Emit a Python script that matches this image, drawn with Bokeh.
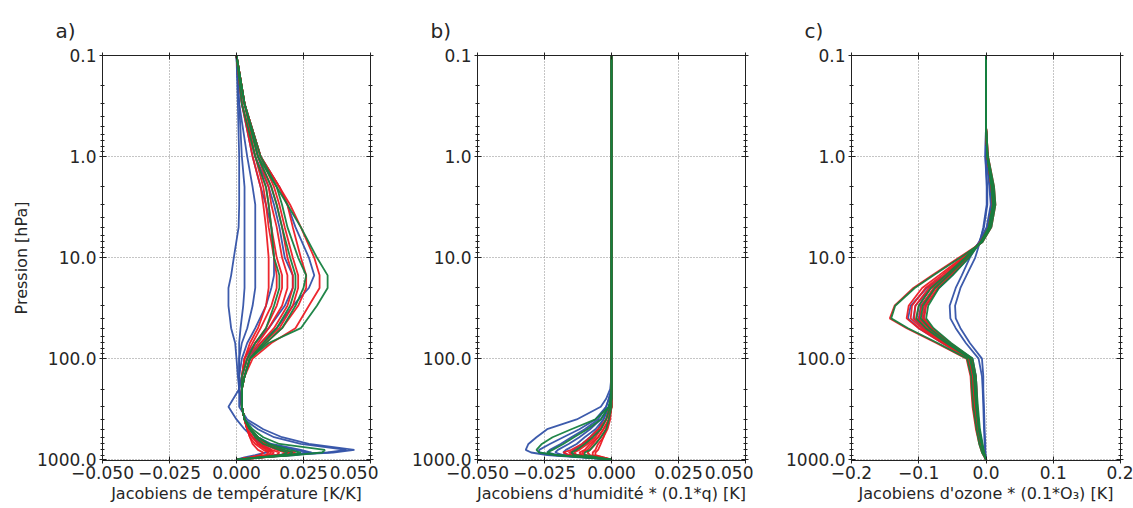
from bokeh.plotting import figure
from bokeh.layouts import row
from bokeh.models import Range1d, FixedTicker, CustomJSTickFormatter, LogAxis, LinearAxis
from bokeh.embed import file_html
from bokeh.resources import INLINE

# ---------------- data ----------------
# Panel a: temperature Jacobians [K/K]
lev_a = [0.1, 0.3, 1, 2, 3, 5, 10, 15, 20, 30, 50, 70, 100, 150, 200, 300, 400, 500, 600, 700, 800, 850, 900, 950, 1000]
a_blue = [
    [0, 0.0005, 0.001, 0.001, 0.001, 0.0008, -0.001, -0.002, -0.003, -0.003, -0.002, -0.0005, 0.0, 0.0005, 0.001, -0.003, 0.0, 0.003, 0.006, 0.009, 0.013, 0.011, 0.007, 0.003, 0],
    [0, 0.001, 0.002, 0.003, 0.003, 0.003, 0.003, 0.003, 0.003, 0.0025, 0.0015, 0.001, 0.001, 0.001, 0.001, 0.001, 0.004, 0.010, 0.017, 0.027, 0.044, 0.036, 0.018, 0.006, 0],
    [0, 0.001, 0.004, 0.006, 0.007, 0.007, 0.007, 0.007, 0.007, 0.006, 0.004, 0.002, 0.001, 0.001, 0.001, 0.002, 0.003, 0.008, 0.014, 0.024, 0.041, 0.034, 0.016, 0.005, 0],
    [0, 0.002, 0.006, 0.009, 0.011, 0.013, 0.014, 0.014, 0.013, 0.011, 0.007, 0.004, 0.002, 0.001, 0.001, 0.002, 0.003, 0.005, 0.008, 0.013, 0.024, 0.028, 0.020, 0.008, 0],
    [0, 0.003, 0.009, 0.016, 0.019, 0.022, 0.027, 0.029, 0.027, 0.021, 0.015, 0.009, 0.004, 0.002, 0.001, 0.002, 0.003, 0.005, 0.008, 0.012, 0.022, 0.027, 0.022, 0.009, 0],
    [0, 0.002, 0.007, 0.012, 0.014, 0.016, 0.018, 0.021, 0.021, 0.018, 0.012, 0.007, 0.003, 0.002, 0.001, 0.002, 0.003, 0.004, 0.006, 0.010, 0.017, 0.020, 0.016, 0.007, 0],
]
a_red = [
    [0, 0.002, 0.006, 0.009, 0.010, 0.011, 0.012, 0.012, 0.012, 0.011, 0.008, 0.005, 0.003, 0.002, 0.002, 0.002, 0.003, 0.004, 0.005, 0.006, 0.008, 0.010, 0.009, 0.005, 0],
    [0, 0.002, 0.007, 0.010, 0.011, 0.012, 0.014, 0.015, 0.015, 0.013, 0.009, 0.006, 0.003, 0.002, 0.002, 0.002, 0.003, 0.004, 0.005, 0.007, 0.010, 0.012, 0.011, 0.006, 0],
    [0, 0.003, 0.007, 0.011, 0.012, 0.013, 0.015, 0.017, 0.017, 0.015, 0.011, 0.007, 0.004, 0.002, 0.002, 0.002, 0.003, 0.004, 0.006, 0.008, 0.011, 0.013, 0.012, 0.006, 0],
    [0, 0.003, 0.008, 0.012, 0.013, 0.015, 0.017, 0.019, 0.019, 0.017, 0.012, 0.008, 0.004, 0.002, 0.002, 0.002, 0.003, 0.004, 0.006, 0.008, 0.012, 0.014, 0.013, 0.007, 0],
    [0, 0.003, 0.008, 0.013, 0.015, 0.017, 0.019, 0.021, 0.021, 0.019, 0.014, 0.009, 0.005, 0.003, 0.002, 0.002, 0.003, 0.005, 0.007, 0.009, 0.013, 0.016, 0.015, 0.008, 0],
    [0, 0.003, 0.009, 0.014, 0.016, 0.018, 0.021, 0.023, 0.023, 0.021, 0.016, 0.010, 0.005, 0.003, 0.002, 0.002, 0.003, 0.005, 0.007, 0.010, 0.015, 0.018, 0.017, 0.009, 0],
    [0, 0.003, 0.009, 0.016, 0.019, 0.021, 0.024, 0.026, 0.026, 0.023, 0.017, 0.011, 0.005, 0.003, 0.002, 0.002, 0.003, 0.005, 0.008, 0.011, 0.016, 0.020, 0.018, 0.010, 0],
    [0, 0.003, 0.009, 0.016, 0.020, 0.024, 0.029, 0.031, 0.031, 0.027, 0.022, 0.013, 0.006, 0.003, 0.002, 0.002, 0.003, 0.005, 0.008, 0.011, 0.017, 0.022, 0.020, 0.010, 0],
]
a_green = [
    [0, 0.003, 0.008, 0.015, 0.019, 0.024, 0.030, 0.034, 0.034, 0.030, 0.024, 0.012, 0.005, 0.003, 0.002, 0.002, 0.003, 0.006, 0.010, 0.016, 0.033, 0.032, 0.022, 0.010, 0],
    [0, 0.003, 0.008, 0.013, 0.015, 0.017, 0.020, 0.022, 0.022, 0.020, 0.015, 0.010, 0.005, 0.003, 0.002, 0.002, 0.003, 0.005, 0.008, 0.012, 0.020, 0.024, 0.020, 0.009, 0],
    [0, 0.002, 0.007, 0.011, 0.012, 0.013, 0.014, 0.016, 0.016, 0.014, 0.011, 0.007, 0.004, 0.002, 0.002, 0.002, 0.003, 0.005, 0.007, 0.010, 0.016, 0.019, 0.017, 0.008, 0],
    [0, 0.003, 0.009, 0.015, 0.017, 0.019, 0.023, 0.026, 0.025, 0.022, 0.017, 0.011, 0.005, 0.003, 0.002, 0.002, 0.003, 0.005, 0.008, 0.012, 0.018, 0.021, 0.019, 0.009, 0],
]

# Panel b: humidity Jacobians * (0.1*q) [K]
lev_b = [0.1, 100, 150, 200, 250, 300, 400, 500, 600, 700, 800, 850, 900, 950, 1000]
b_blue = [
    [0, 0, 0, -0.0005, -0.002, -0.004, -0.013, -0.024, -0.028, -0.031, -0.032, -0.030, -0.024, -0.012, 0],
    [0, 0, 0, 0, -0.001, -0.002, -0.006, -0.012, -0.018, -0.023, -0.027, -0.027, -0.022, -0.010, 0],
    [0, 0, 0, 0, -0.001, -0.002, -0.005, -0.010, -0.015, -0.019, -0.023, -0.024, -0.020, -0.009, 0],
    [0, 0, 0, 0, 0, -0.001, -0.004, -0.008, -0.012, -0.016, -0.020, -0.021, -0.018, -0.008, 0],
    [0, 0, 0, 0, 0, -0.001, -0.003, -0.006, -0.010, -0.013, -0.017, -0.018, -0.016, -0.007, 0],
    [0, 0, 0, 0, 0, -0.001, -0.003, -0.005, -0.008, -0.011, -0.014, -0.015, -0.013, -0.006, 0],
]
b_red = [
    [0, 0, 0, 0, 0, -0.0005, -0.002, -0.005, -0.008, -0.011, -0.015, -0.018, -0.016, -0.007, 0],
    [0, 0, 0, 0, 0, -0.0005, -0.002, -0.004, -0.007, -0.010, -0.013, -0.016, -0.014, -0.006, 0],
    [0, 0, 0, 0, 0, -0.0005, -0.002, -0.004, -0.006, -0.009, -0.012, -0.014, -0.013, -0.006, 0],
    [0, 0, 0, 0, 0, 0, -0.001, -0.003, -0.005, -0.008, -0.010, -0.012, -0.011, -0.005, 0],
    [0, 0, 0, 0, 0, 0, -0.001, -0.003, -0.005, -0.007, -0.009, -0.011, -0.010, -0.005, 0],
    [0, 0, 0, 0, 0, 0, -0.001, -0.002, -0.004, -0.006, -0.008, -0.009, -0.008, -0.004, 0],
    [0, 0, 0, 0, 0, 0, -0.001, -0.002, -0.003, -0.005, -0.006, -0.007, -0.007, -0.003, 0],
    [0, 0, 0, 0, 0, 0, -0.0005, -0.0015, -0.003, -0.004, -0.005, -0.006, -0.006, -0.003, 0],
]
b_green = [
    [0, 0, 0, 0, -0.0005, -0.001, -0.006, -0.015, -0.022, -0.026, -0.028, -0.027, -0.021, -0.010, 0],
    [0, 0, 0, 0, 0, -0.001, -0.004, -0.009, -0.014, -0.018, -0.022, -0.024, -0.021, -0.010, 0],
    [0, 0, 0, 0, 0, -0.0005, -0.002, -0.004, -0.007, -0.010, -0.013, -0.015, -0.014, -0.007, 0],
    [0, 0, 0, 0, 0, 0, -0.001, -0.002, -0.004, -0.006, -0.008, -0.010, -0.010, -0.005, 0],
]

# Panel c: ozone Jacobians * (0.1*O3) [K]
lev_c = [0.1, 0.5, 1, 2, 3, 5, 7, 10, 15, 20, 30, 40, 50, 70, 100, 150, 200, 300, 500, 700, 850, 1000]
c_blue = [
    [0, 0, -0.001, 0.002, 0.002, -0.003, -0.010, -0.024, -0.036, -0.045, -0.054, -0.053, -0.045, -0.030, -0.011, -0.006, -0.005, -0.004, -0.003, -0.002, -0.001, 0],
    [0, 0, -0.001, 0.001, 0.001, -0.004, -0.009, -0.016, -0.029, -0.038, -0.046, -0.045, -0.038, -0.024, -0.006, -0.004, -0.004, -0.003, -0.002, -0.001, -0.001, 0],
    [0, 0, 0.001, 0.008, 0.010, 0.004, -0.008, -0.030, -0.062, -0.088, -0.112, -0.116, -0.100, -0.065, -0.026, -0.020, -0.019, -0.017, -0.013, -0.008, -0.004, 0],
    [0, 0, 0.001, 0.007, 0.009, 0.003, -0.009, -0.028, -0.058, -0.082, -0.105, -0.108, -0.094, -0.062, -0.024, -0.018, -0.017, -0.015, -0.012, -0.007, -0.004, 0],
    [0, 0, 0.001, 0.006, 0.008, 0.002, -0.010, -0.027, -0.054, -0.076, -0.097, -0.100, -0.088, -0.058, -0.022, -0.016, -0.015, -0.014, -0.011, -0.007, -0.003, 0],
    [0, 0, 0.0, 0.005, 0.007, 0.001, -0.010, -0.026, -0.050, -0.070, -0.090, -0.093, -0.082, -0.055, -0.020, -0.015, -0.014, -0.013, -0.010, -0.006, -0.003, 0],
]
c_red = [
    [0, 0, 0.003, 0.012, 0.014, 0.008, -0.005, -0.040, -0.080, -0.108, -0.136, -0.143, -0.118, -0.074, -0.029, -0.023, -0.022, -0.020, -0.015, -0.010, -0.006, 0],
    [0, 0, 0.003, 0.011, 0.013, 0.007, -0.006, -0.035, -0.070, -0.095, -0.115, -0.118, -0.100, -0.065, -0.027, -0.021, -0.020, -0.018, -0.014, -0.009, -0.005, 0],
    [0, 0, 0.002, 0.010, 0.012, 0.007, -0.006, -0.033, -0.066, -0.090, -0.110, -0.112, -0.096, -0.062, -0.026, -0.020, -0.019, -0.017, -0.013, -0.009, -0.005, 0],
    [0, 0, 0.002, 0.010, 0.012, 0.006, -0.007, -0.032, -0.062, -0.085, -0.105, -0.107, -0.092, -0.060, -0.025, -0.019, -0.018, -0.016, -0.012, -0.008, -0.005, 0],
    [0, 0, 0.002, 0.009, 0.011, 0.006, -0.007, -0.030, -0.060, -0.082, -0.100, -0.103, -0.088, -0.058, -0.024, -0.018, -0.017, -0.016, -0.012, -0.008, -0.004, 0],
    [0, 0, 0.002, 0.009, 0.011, 0.005, -0.008, -0.030, -0.058, -0.078, -0.096, -0.099, -0.085, -0.056, -0.023, -0.017, -0.016, -0.015, -0.011, -0.007, -0.004, 0],
    [0, 0, 0.002, 0.008, 0.010, 0.005, -0.008, -0.028, -0.055, -0.075, -0.092, -0.095, -0.082, -0.054, -0.022, -0.016, -0.015, -0.014, -0.011, -0.007, -0.004, 0],
    [0, 0, 0.002, 0.008, 0.010, 0.004, -0.008, -0.027, -0.052, -0.072, -0.089, -0.092, -0.080, -0.053, -0.021, -0.015, -0.014, -0.013, -0.010, -0.006, -0.003, 0],
]
c_green = [
    [0, 0, 0.003, 0.012, 0.014, 0.008, -0.005, -0.038, -0.078, -0.106, -0.135, -0.141, -0.116, -0.072, -0.028, -0.022, -0.021, -0.019, -0.014, -0.010, -0.006, 0],
    [0, 0, 0.002, 0.009, 0.011, 0.005, -0.007, -0.029, -0.056, -0.076, -0.094, -0.097, -0.084, -0.056, -0.023, -0.017, -0.016, -0.014, -0.010, -0.006, -0.003, 0],
    [0, 0, 0.002, 0.008, 0.010, 0.004, -0.008, -0.025, -0.050, -0.070, -0.086, -0.089, -0.078, -0.052, -0.020, -0.015, -0.014, -0.012, -0.009, -0.005, -0.003, 0],
    [0, 0, 0.002, 0.010, 0.012, 0.006, -0.007, -0.031, -0.060, -0.082, -0.100, -0.104, -0.090, -0.059, -0.024, -0.018, -0.017, -0.015, -0.011, -0.007, -0.004, 0],
]

y_major = [0.1, 1, 10, 100, 1000]
x_ticks_a = [-0.05, -0.025, 0.0, 0.025, 0.05]
x_ticks_b = [-0.05, -0.025, 0.0, 0.025, 0.05]
x_ticks_c = [-0.2, -0.1, 0.0, 0.1, 0.2]
titles = ["a)", "b)", "c)"]
xlabels = ["Jacobiens de température [K/K]",
           "Jacobiens d'humidité * (0.1*q) [K]",
           "Jacobiens d'ozone * (0.1*O\u2083) [K]"]
ylabel = "Pression [hPa]"

BLUE = "#3352a8"
RED = "#ec1c24"
GREEN = "#15803f"
TXT = "#262626"
FONT = "DejaVu Sans"

y_minor = [k * 10.0 ** e for e in range(-1, 3) for k in range(2, 10)]


def style_axis(ax, labels=True):
    ax.axis_line_color = "#222222"
    ax.major_tick_line_color = "#222222"
    ax.minor_tick_line_color = "#222222"
    ax.major_tick_in = 4
    ax.major_tick_out = 3
    ax.minor_tick_in = 2
    ax.minor_tick_out = 2
    ax.major_label_text_font = FONT
    ax.major_label_text_color = TXT
    ax.major_label_text_font_size = "17px"
    ax.axis_label_text_font = FONT
    ax.axis_label_text_color = TXT
    ax.axis_label_text_font_style = "normal"
    ax.axis_label_text_font_size = "16px"
    ax.major_label_standoff = 3
    ax.axis_label_standoff = 3
    if not labels:
        ax.formatter = CustomJSTickFormatter(code="return '';")
        ax.major_label_standoff = 0


def make_panel(lev, blues, reds, greens, xr, xticks, xfmt, title, xlabel, ylab,
               width, left, right):
    p = figure(width=width, height=508, y_axis_type="log",
               x_range=Range1d(xr[0], xr[1]), y_range=Range1d(1020, 0.1),
               output_backend="svg", toolbar_location=None,
               min_border_left=left, min_border_right=right,
               min_border_top=55, min_border_bottom=48)
    p.background_fill_color = "white"
    p.border_fill_color = "white"
    p.outline_line_color = "#222222"
    for group, col in ((blues, BLUE), (reds, RED), (greens, GREEN)):
        for prof in group:
            p.line(prof, lev, line_color=col, line_width=1.8, line_alpha=0.95)

    p.yaxis.ticker = FixedTicker(ticks=y_major, minor_ticks=y_minor)
    p.yaxis.formatter = CustomJSTickFormatter(code="return tick.toFixed(1);")
    p.xaxis.ticker = FixedTicker(ticks=xticks, minor_ticks=[])
    p.xaxis.formatter = CustomJSTickFormatter(
        code="const s = Math.abs(tick).toFixed(%d); return (tick < -1e-12 ? '\\u2212' : '') + s;" % xfmt)
    p.xaxis.axis_label = xlabel
    if ylab:
        p.yaxis.axis_label = ylab
    style_axis(p.xaxis[0])
    style_axis(p.yaxis[0])
    p.xaxis[0].major_label_standoff = 2
    p.xaxis[0].axis_label_standoff = 2

    ra = LogAxis(ticker=FixedTicker(ticks=y_major, minor_ticks=y_minor))
    style_axis(ra, labels=False)
    p.add_layout(ra, "right")
    ta = LinearAxis(ticker=FixedTicker(ticks=xticks, minor_ticks=[]))
    style_axis(ta, labels=False)
    p.add_layout(ta, "above")

    p.xgrid.grid_line_color = "#8a8a8a"
    p.xgrid.grid_line_dash = "1 2"
    p.ygrid.grid_line_color = "#8a8a8a"
    p.ygrid.grid_line_dash = "1 2"

    p.title.text = title
    p.title.align = "left"
    p.title.offset = -47
    p.title.text_font = FONT
    p.title.text_font_size = "20px"
    p.title.text_font_style = "normal"
    p.title.text_color = TXT
    p.title.standoff = 20
    return p


pa = make_panel(lev_a, a_blue, a_red, a_green, (-0.05, 0.05), x_ticks_a, 3,
                titles[0], xlabels[0], ylabel, 378, 102, 8)
pb = make_panel(lev_b, b_blue, b_red, b_green, (-0.05, 0.05), x_ticks_b, 3,
                titles[1], xlabels[1], None, 375, 99, 8)
pc = make_panel(lev_c, c_blue, c_red, c_green, (-0.2, 0.2), x_ticks_c, 1,
                titles[2], xlabels[2], None, 380, 98, 13)

layout = row(pa, pb, pc)
open("out.html", "w").write(file_html(layout, INLINE))
